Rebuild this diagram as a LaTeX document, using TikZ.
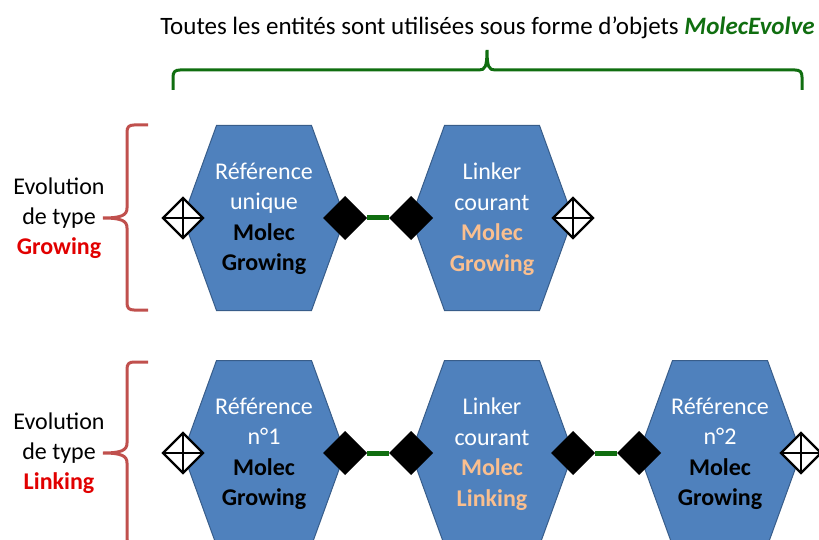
\documentclass[tikz,border=0pt]{standalone}
\usepackage{fontspec}
\setmainfont{Carlito}
\usetikzlibrary{shapes.geometric}
\definecolor{hexblue}{RGB}{79,129,189}
\definecolor{hexedge}{RGB}{56,93,138}
\definecolor{molorange}{RGB}{250,191,143}
\definecolor{labred}{RGB}{225,0,0}
\definecolor{bracered}{RGB}{192,80,77}
\definecolor{dkgreen}{RGB}{16,110,16}
\newcommand{\hexa}[4]{%
  \filldraw[hexshape] (#2-81,#3) -- (#2-47.5,#3-92.5) -- (#2+47.5,#3-92.5) -- (#2+81,#3) -- (#2+47.5,#3+92.5) -- (#2-47.5,#3+92.5) -- cycle;
  \node[hextext] (#1) at (#2,#3+1) {#4};
}
\tikzset{
  hexshape/.style={fill=hexblue, draw=hexedge, line width=1pt},
  hextext/.style={align=center, text=white, font=\fontsize{24}{30.5}\selectfont, inner sep=0pt},
  labeltext/.style={align=center, text=black, font=\fontsize{24}{30}\selectfont, inner sep=0pt},
  titletext/.style={text=black, font=\fontsize{25}{30}\selectfont, inner sep=0pt},
  soliddia/.style={diamond, fill=black, minimum width=44pt, minimum height=44pt, inner sep=0pt, outer sep=0pt},
  hollowdia/.style={diamond, draw=black, fill=white, line width=2.4pt, minimum width=41pt, minimum height=41pt, inner sep=0pt,
    path picture={\draw[black, line width=2.2pt] (path picture bounding box.north) -- (path picture bounding box.south)
      (path picture bounding box.west) -- (path picture bounding box.east);}},
  greenbar/.style={dkgreen, line width=5pt},
  redbrace/.style={bracered, line width=3pt},
  greenbrace/.style={dkgreen, line width=3pt}
}
\begin{document}
\begin{tikzpicture}[x=1pt,y=-1pt]
\useasboundingbox (0,0) rectangle (819,540);
% title
\node[titletext] (title) at (487.5,28) {Toutes les entités sont utilisées sous forme d’objets \textcolor{dkgreen}{\textbf{\textit{MolecEvolve}}}};
% green brace
\draw[greenbrace] (173,90) -- (173,77) .. controls (173,72) and (175,70) .. (180,70) -- (479,70)
  .. controls (485,70) and (487,67) .. (487,50)
  .. controls (487,67) and (489,70) .. (495,70) -- (795,70)
  .. controls (800,70) and (802,72) .. (802,77) -- (802,90);
% red braces
\draw[redbrace] (148,125) -- (134,125) .. controls (129,125) and (127,127) .. (127,132) -- (127,208)
  .. controls (127,215) and (122,218) .. (103,218)
  .. controls (122,218) and (127,221) .. (127,228) -- (127,303)
  .. controls (127,308) and (129,310) .. (134,310) -- (148,310);
\draw[redbrace] (148,362) -- (134,362) .. controls (129,362) and (127,364) .. (127,369) -- (127,443)
  .. controls (127,450) and (122,453) .. (103,453)
  .. controls (122,453) and (127,456) .. (127,463) -- (127,538)
  .. controls (127,543) and (129,545) .. (134,545) -- (148,545);
% left labels
\node[labeltext] (lab1) at (59,218) {Evolution\\de type\\\textcolor{labred}{\textbf{Growing}}};
\node[labeltext] (lab2) at (59,453) {Evolution\\de type\\\textcolor{labred}{\textbf{Linking}}};
% top row
\hexa{ta}{264}{218}{Référence\\unique\\\textcolor{black}{\textbf{Molec}}\\\textcolor{black}{\textbf{Growing}}}
\hexa{tb}{492}{218}{Linker\\courant\\\textcolor{molorange}{\textbf{Molec}}\\\textcolor{molorange}{\textbf{Growing}}}
\node[hollowdia] (tah) at (183,218) {};
\node[soliddia] (tar) at (345,218) {};
\node[soliddia] (tbl) at (411,218) {};
\node[hollowdia] (tbh) at (573,218) {};
\draw[greenbar] (tar.east) -- (tbl.west);
% bottom row
\hexa{ba}{264}{453}{Référence\\n°1\\\textcolor{black}{\textbf{Molec}}\\\textcolor{black}{\textbf{Growing}}}
\hexa{bb}{492}{453}{Linker\\courant\\\textcolor{molorange}{\textbf{Molec}}\\\textcolor{molorange}{\textbf{Linking}}}
\hexa{bc}{720}{453}{Référence\\n°2\\\textcolor{black}{\textbf{Molec}}\\\textcolor{black}{\textbf{Growing}}}
\node[hollowdia] (bah) at (183,453) {};
\node[soliddia] (bar) at (345,453) {};
\node[soliddia] (bbl) at (411,453) {};
\node[soliddia] (bbr) at (573,453) {};
\node[soliddia] (bcl) at (639,453) {};
\node[hollowdia] (bch) at (801,453) {};
\draw[greenbar] (bar.east) -- (bbl.west);
\draw[greenbar] (bbr.east) -- (bcl.west);
\end{tikzpicture}
\end{document}
